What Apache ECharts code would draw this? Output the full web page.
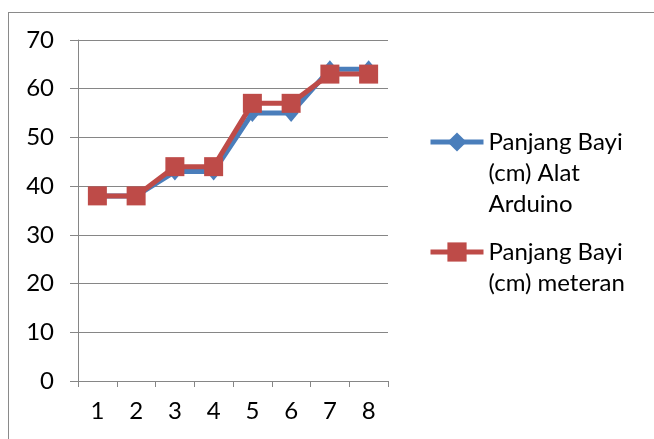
<!DOCTYPE html>
<html lang="id">
	<head>
		<meta charset="utf-8" />
		<title>Panjang Bayi</title>
		<style>
			body { margin: 0; background: #fff; }
			#frame {
				position: absolute; left: 8px; top: 12px;
				width: 700px; height: 500px;
				border-top: 1px solid #8a8a8a;
				border-left: 1px solid #8a8a8a;
			}
			#ec { position: absolute; left: 0; top: 0; width: 654px; height: 439px; }
		</style>
	</head>
	<body>
		<div id="frame"></div>
		<div id="ec"></div>

		<script src="https://cdn.jsdelivr.net/npm/echarts@6/dist/echarts.min.js"></script>
		<script type="text/javascript">
			const categories = ['1', '2', '3', '4', '5', '6', '7', '8'];
			const arduino = [38, 38, 43, 43, 55, 55, 64, 64];
			const meteran = [38, 38, 44, 44, 57, 57, 63, 63];
			const nameArduino = 'Panjang Bayi (cm) Alat Arduino';
			const nameMeteran = 'Panjang Bayi (cm) meteran';
			// leading blank lines keep the icon level with the first text line
			const labelLines = {};
			labelLines[nameArduino] = '\n\nPanjang Bayi\n(cm) Alat\nArduino';
			labelLines[nameMeteran] = '\nPanjang Bayi\n(cm) meteran';

			const font = 'Lato';
			const lh = 31;
			const legendBase = {
				orient: 'vertical',
				left: 428,
				padding: 0,
				itemWidth: 53,
				itemHeight: 24,
				selectedMode: false,
				formatter: (n) => labelLines[n],
				lineStyle: { width: 5 },
				textStyle: { fontFamily: font, fontSize: 24, color: '#000', lineHeight: lh },
			};

			const opt = {
				animation: false,
				grid: { left: 78, right: 266, top: 40, bottom: 58 },
				legend: [
					Object.assign({}, legendBase, { top: 142 - 2.5 * lh, data: [nameArduino] }),
					Object.assign({}, legendBase, { top: 252 - 1.5 * lh, data: [nameMeteran] }),
				],
				xAxis: {
					type: 'category',
					data: categories,
					boundaryGap: true,
					axisLine: { lineStyle: { color: '#868686', width: 1 } },
					axisTick: { show: true, length: 6, lineStyle: { color: '#868686' } },
					axisLabel: { margin: 18, fontFamily: font, fontSize: 24, color: '#000' },
				},
				yAxis: {
					type: 'value',
					min: 0,
					max: 70,
					interval: 10,
					axisLine: { show: true, lineStyle: { color: '#868686', width: 1 } },
					axisTick: { show: true, length: 8, lineStyle: { color: '#868686' } },
					axisLabel: { margin: 24, fontFamily: font, fontSize: 24, color: '#000' },
					splitLine: { lineStyle: { color: '#868686', width: 1 } },
				},
				series: [
					{
						name: nameArduino,
						type: 'line',
						data: arduino,
						symbol: 'diamond',
						symbolSize: [15, 18],
						color: '#4a7ebb',
						lineStyle: { width: 5, color: '#4a7ebb' },
						itemStyle: { color: '#4a7ebb' },
						z: 2,
					},
					{
						name: nameMeteran,
						type: 'line',
						data: meteran,
						symbol: 'rect',
						symbolSize: 19,
						color: '#be4b48',
						lineStyle: { width: 5, color: '#be4b48' },
						itemStyle: { color: '#be4b48' },
						z: 3,
					},
				],
			};

			const ec = echarts.init(document.getElementById('ec'));
			ec.setOption(opt);
		</script>
	</body>
</html>
